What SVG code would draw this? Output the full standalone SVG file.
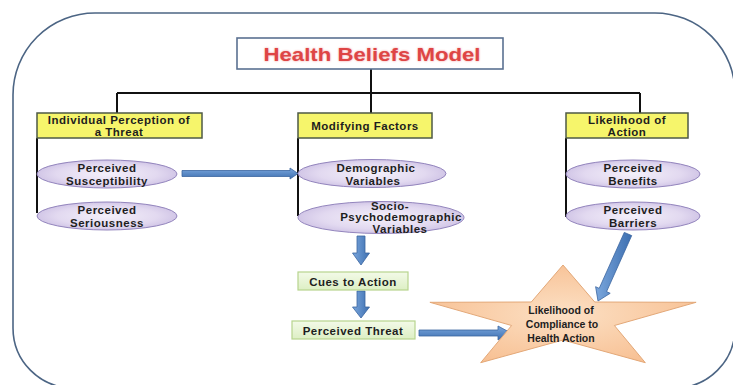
<svg xmlns="http://www.w3.org/2000/svg" width="733" height="385" viewBox="0 0 733 385">
<defs>
<linearGradient id="blueH" x1="0" y1="0" x2="0" y2="1"><stop offset="0" stop-color="#7BA7DD"/><stop offset="1" stop-color="#3D6FB0"/></linearGradient>
<linearGradient id="blueV" x1="0" y1="0" x2="1" y2="0"><stop offset="0" stop-color="#7BA7DD"/><stop offset="1" stop-color="#3D6FB0"/></linearGradient>
<radialGradient id="lav" cx="0.5" cy="0.5" r="0.6"><stop offset="0" stop-color="#F4F0FA"/><stop offset="0.6" stop-color="#E2D9F0"/><stop offset="1" stop-color="#C6B9E0"/></radialGradient>
<linearGradient id="green" x1="0" y1="0" x2="0" y2="1"><stop offset="0" stop-color="#F3FAE8"/><stop offset="1" stop-color="#DDEFC4"/></linearGradient>
<radialGradient id="peach" cx="0.5" cy="0.5" r="0.6"><stop offset="0" stop-color="#FCE0C4"/><stop offset="1" stop-color="#F7BE90"/></radialGradient>
<filter id="glow" x="-10%" y="-30%" width="120%" height="160%"><feGaussianBlur stdDeviation="1.2"/></filter>
</defs>
<style>
.t{font-family:"Liberation Sans",Arial,sans-serif;font-weight:bold;font-size:11.5px;letter-spacing:0.5px;fill:#1E1E1E;text-anchor:middle}
.s{font-size:10.5px;letter-spacing:0}
.yb{fill:#F6F56B;stroke:#4E5A46;stroke-width:1.5}
.el{fill:url(#lav);stroke:#9385BD;stroke-width:1}
.gb{fill:url(#green);stroke:#B7D48E;stroke-width:1.2}
.ln{stroke:#111;stroke-width:2;fill:none}
.ah{fill:url(#blueH);stroke:#3A64A0;stroke-width:0.8}
.av{fill:url(#blueV);stroke:#3A64A0;stroke-width:0.8}
</style>
<rect width="733" height="385" fill="#FFFFFF"/>
<path d="M13,95 A82,82 0 0 1 95,13 L655,13 A80,80 0 0 1 735,93 L735,328 A60,60 0 0 1 675,388 L73,388 A60,60 0 0 1 13,328 Z" fill="none" stroke="#4C6584" stroke-width="1.6"/>

<g id="connectors">
<path class="ln" d="M371,69 V93 M117,93 H640 M117,93 V113 M371,93 V113 M640,93 V113"/>
<path class="ln" d="M37,138 V213 M298,138 V216 M566,138 V217"/>
<polygon class="ah" points="182,170.5 290,170.5 290,168 298,173.5 290,179 290,176.5 182,176.5"/>
<polygon class="av" points="357,236 365,236 365,253 369.5,253 361,265 352.5,253 357,253"/>
<polygon class="av" points="357,291 365,291 365,307 369.5,307 361,318 352.5,307 357,307"/>
<polygon class="ah" points="419,330 498,330 498,326 511,333 498,340 498,336 419,336"/>
<polygon class="av" points="631.7,235.6 606.6,291.6 610.2,293.3 598,301 595.6,286.7 599.2,288.4 624.3,232.4"/>
</g>

<g id="title">
<rect x="237" y="38" width="266" height="31" fill="#FFFFFF" stroke="#5B7191" stroke-width="1.6"/>
<text x="372" y="60.5" font-family="'Liberation Sans',Arial,sans-serif" font-weight="bold" font-size="18.5" text-anchor="middle" fill="#F2A0A0" filter="url(#glow)" textLength="217" lengthAdjust="spacingAndGlyphs">Health Beliefs Model</text>
<text x="372" y="60.5" font-family="'Liberation Sans',Arial,sans-serif" font-weight="bold" font-size="18.5" text-anchor="middle" fill="#DE4545" textLength="217" lengthAdjust="spacingAndGlyphs">Health Beliefs Model</text>
</g>

<g id="threat">
<rect class="yb" x="37" y="113" width="165" height="25"/>
<text class="t" x="119" y="124">Individual Perception of</text>
<text class="t" x="119" y="136">a Threat</text>
</g>
<g id="modifying">
<rect class="yb" x="298" y="113" width="134" height="25"/>
<text class="t" x="365" y="130">Modifying Factors</text>
</g>
<g id="likelihood">
<rect class="yb" x="566" y="113" width="122" height="25"/>
<text class="t" x="627" y="124">Likelihood of</text>
<text class="t" x="627" y="136">Action</text>
</g>

<g id="susceptibility">
<ellipse class="el" cx="107" cy="174" rx="70" ry="14"/>
<text class="t" x="107" y="172">Perceived</text>
<text class="t" x="107" y="185">Susceptibility</text>
</g>
<g id="seriousness">
<ellipse class="el" cx="107" cy="216" rx="70" ry="14"/>
<text class="t" x="107" y="214">Perceived</text>
<text class="t" x="107" y="227">Seriousness</text>
</g>
<g id="demographic">
<ellipse class="el" cx="372" cy="173.5" rx="74" ry="14"/>
<text class="t" x="376" y="172">Demographic</text>
<text class="t" x="373" y="185">Variables</text>
</g>
<g id="socio">
<ellipse class="el" cx="381" cy="217.5" rx="83" ry="16"/>
<text class="t" x="390" y="209.5" font-size="11px" letter-spacing="0.4px">Socio-</text>
<text class="t" x="401" y="221" font-size="11px" letter-spacing="0.4px">Psychodemographic</text>
<text class="t" x="400" y="232.5" font-size="11px" letter-spacing="0.4px">Variables</text>
</g>
<g id="benefits">
<ellipse class="el" cx="633" cy="174" rx="67" ry="14"/>
<text class="t" x="633" y="172">Perceived</text>
<text class="t" x="633" y="185">Benefits</text>
</g>
<g id="barriers">
<ellipse class="el" cx="633" cy="216" rx="67" ry="14"/>
<text class="t" x="633" y="214">Perceived</text>
<text class="t" x="633" y="227">Barriers</text>
</g>

<g id="cues">
<rect class="gb" x="298" y="272" width="110" height="18"/>
<text class="t" x="353" y="285.5">Cues to Action</text>
</g>
<g id="perceived-threat">
<rect class="gb" x="292" y="321" width="123" height="18"/>
<text class="t" x="353" y="334.5">Perceived Threat</text>
</g>

<g id="compliance">
<polygon points="563,265 594.7,302 696.1,302.3 614.4,325.5 645.3,362.7 563,340 480.7,362.7 511.6,325.5 429.9,302.3 531.3,302" fill="url(#peach)" stroke="#E3A878" stroke-width="1"/>
<text class="t s" x="561" y="314">Likelihood of</text>
<text class="t s" x="562" y="328">Compliance to</text>
<text class="t s" x="561" y="342">Health Action</text>
</g>
</svg>
